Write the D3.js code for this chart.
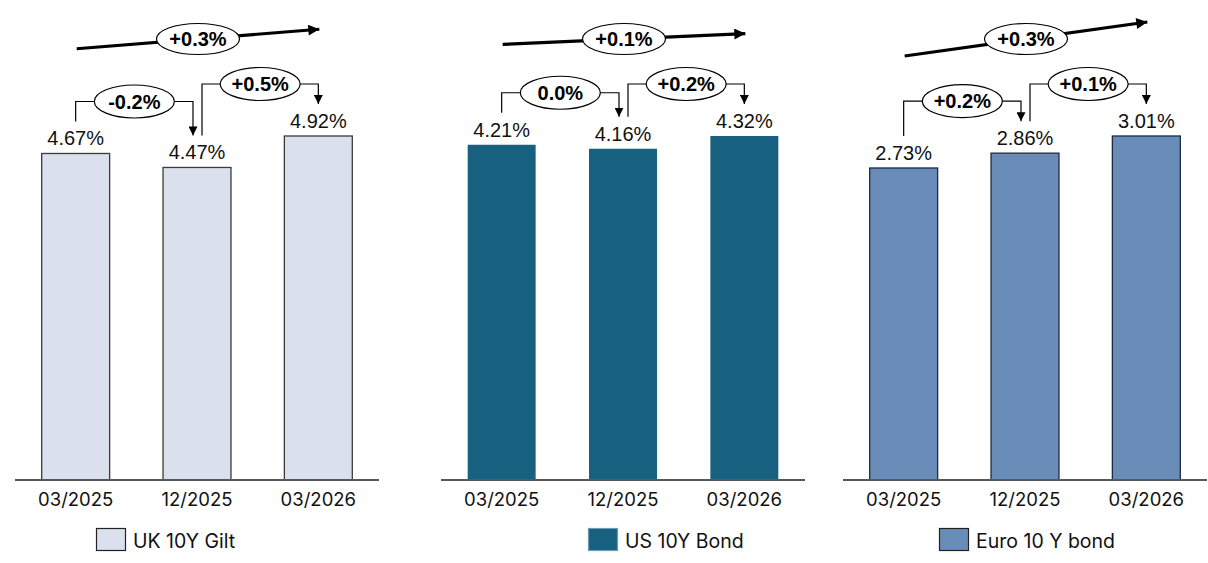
<!DOCTYPE html>
<html>
<head>
<meta charset="utf-8">
<script src="https://cdn.jsdelivr.net/npm/d3@7"></script>
<style>
  html, body { margin: 0; padding: 0; background: #fff; }
  svg { display: block; }
</style>
</head>
<body>
<svg id="chart" width="1208" height="563"></svg>
<script>
// ---- data ----
const categories = ["03/2025", "12/2025", "03/2026"];
const seriesNames = ["UK 10Y Gilt", "US 10Y Bond", "Euro 10 Y bond"];
const ukValues = [4.67, 4.47, 4.92];
const usValues = [4.21, 4.16, 4.32];
const euroValues = [2.73, 2.86, 3.01];
const ukSteps = ["-0.2%", "+0.5%"];
const usSteps = ["0.0%", "+0.2%"];
const euroSteps = ["+0.2%", "+0.1%"];
const totalChanges = ["+0.3%", "+0.1%", "+0.3%"];

// ---- styles / layout ----
const fills = ["#dae0ec", "#17607f", "#6a8cb8"];
const strokes = ["#3a3a3a", "none", "#1c2b3f"];
const panelX = [15, 441, 843];
const panelW = 364;
const legendX = [96, 588, 939];
const baseY = 480;
const topY = 136;

const panels = [
  { name: seriesNames[0], values: ukValues, steps: ukSteps, total: totalChanges[0] },
  { name: seriesNames[1], values: usValues, steps: usSteps, total: totalChanges[1] },
  { name: seriesNames[2], values: euroValues, steps: euroSteps, total: totalChanges[2] }
];

const svg = d3.select("#chart");
const valueFont = "'Liberation Sans', Arial, sans-serif";
const axisFont = "Inter, 'Liberation Sans', sans-serif";

// arrow markers
const defs = svg.append("defs");
defs.append("marker").attr("id", "arrSmall")
  .attr("viewBox", "0 0 10 10").attr("refX", 10).attr("refY", 5)
  .attr("markerWidth", 9).attr("markerHeight", 9).attr("markerUnits", "userSpaceOnUse")
  .attr("orient", "auto")
  .append("path").attr("d", "M0,0 L10,5 L0,10 Z").attr("fill", "#000");
defs.append("marker").attr("id", "arrBig")
  .attr("viewBox", "0 0 10 10").attr("refX", 10).attr("refY", 5)
  .attr("markerWidth", 14).attr("markerHeight", 11).attr("markerUnits", "userSpaceOnUse")
  .attr("orient", "auto")
  .append("path").attr("d", "M0,0 L10,5 L0,10 Z").attr("fill", "#000");

panels.forEach((p, pi) => {
  const g = svg.append("g");
  const x = d3.scaleBand().domain(categories)
    .range([panelX[pi], panelX[pi] + panelW]).paddingInner(0.44).paddingOuter(0.22);
  const y = d3.scaleLinear().domain([0, d3.max(p.values)]).range([baseY, topY]);
  const cx = c => x(c) + x.bandwidth() / 2;

  // bars
  g.selectAll("rect.bar").data(p.values).join("rect")
    .attr("class", "bar")
    .attr("x", (d, i) => x(categories[i]))
    .attr("y", d => y(d))
    .attr("width", x.bandwidth())
    .attr("height", d => baseY - y(d))
    .attr("fill", fills[pi])
    .attr("stroke", strokes[pi])
    .attr("stroke-width", 1.3);

  // axis
  const axis = d3.axisBottom(x).tickSize(0).tickPadding(13);
  const ag = g.append("g").attr("transform", `translate(0,${baseY})`).call(axis);
  ag.select(".domain").attr("stroke", "#595959").attr("stroke-width", 2)
    .attr("d", `M${panelX[pi]},0H${panelX[pi] + panelW}`);
  ag.selectAll("text").attr("font-family", axisFont).attr("font-size", 18.5)
    .attr("fill", "#111").attr("dy", "0.71em");

  // value labels
  const labelBase = p.values.map(v => y(v) - 8);
  g.selectAll("text.val").data(p.values).join("text")
    .attr("class", "val")
    .attr("x", (d, i) => cx(categories[i]))
    .attr("y", (d, i) => labelBase[i])
    .attr("text-anchor", "middle")
    .attr("font-family", valueFont).attr("font-size", 20)
    .attr("fill", "#111")
    .text(d => d.toFixed(2) + "%");

  // step connectors
  p.steps.forEach((s, si) => {
    const x0 = cx(categories[si]) + (si === 0 ? 0 : 5);
    const x1 = cx(categories[si + 1]) - (si === 0 ? 4 : 0);
    const yStart = labelBase[si] - 24;
    const yEnd = labelBase[si + 1] - 24;
    const yH = Math.min(labelBase[si], labelBase[si + 1]) - 44;
    g.append("path")
      .attr("d", `M${x0},${yStart}V${yH}H${x1}V${yEnd}`)
      .attr("fill", "none").attr("stroke", "#000").attr("stroke-width", 1.2)
      .attr("marker-end", "url(#arrSmall)");
    const mx = (x0 + x1) / 2;
    g.append("ellipse").attr("cx", mx).attr("cy", yH).attr("rx", 40).attr("ry", 16.5)
      .attr("fill", "#fff").attr("stroke", "#000").attr("stroke-width", 1.2);
    g.append("text").attr("x", mx).attr("y", yH).attr("dy", "0.36em")
      .attr("text-anchor", "middle").attr("font-family", valueFont)
      .attr("font-weight", "bold").attr("font-size", 20).attr("fill", "#000")
      .text(s);
  });

  // total change arrow
  const first = p.values[0], last = p.values[p.values.length - 1];
  const rise = y(first) - y(last);
  const midY = 39;
  const ax0 = cx(categories[0]) + 1;
  const ax1 = cx(categories[categories.length - 1]) + 1;
  g.append("line")
    .attr("x1", ax0).attr("y1", midY + rise / 2 + 1)
    .attr("x2", ax1).attr("y2", midY - rise / 2 - 1)
    .attr("stroke", "#000").attr("stroke-width", 3.2)
    .attr("marker-end", "url(#arrBig)");
  const emx = (ax0 + ax1) / 2;
  g.append("ellipse").attr("cx", emx).attr("cy", midY).attr("rx", 41.5).attr("ry", 15.5)
    .attr("fill", "#fff").attr("stroke", "#000").attr("stroke-width", 1.2);
  g.append("text").attr("x", emx).attr("y", midY).attr("dy", "0.36em")
    .attr("text-anchor", "middle").attr("font-family", valueFont)
    .attr("font-weight", "bold").attr("font-size", 20).attr("fill", "#000")
    .text(p.total);

  // legend
  const lg = g.append("g").attr("transform", `translate(${legendX[pi]},528)`);
  lg.append("rect").attr("x", 0.5).attr("y", 0.5).attr("width", 29).attr("height", 22)
    .attr("fill", fills[pi]).attr("stroke", pi === 1 ? "#6a9bb5" : "#222").attr("stroke-width", 1.2);
  lg.append("text").attr("x", 37).attr("y", 20)
    .attr("font-family", axisFont).attr("font-size", 19.5).attr("fill", "#111")
    .text(p.name);
});
</script>
</body>
</html>
